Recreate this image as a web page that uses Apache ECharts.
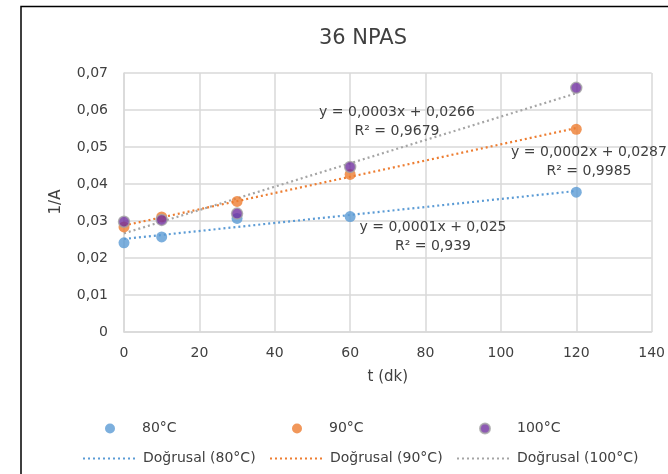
<!DOCTYPE html>
<html>
<head>
<meta charset="utf-8">
<title>36 NPAS</title>
<script src="https://cdn.jsdelivr.net/npm/echarts@6/dist/echarts.min.js"></script>
<style>
  html, body { margin: 0; padding: 0; background: #ffffff; }
  #chart { width: 668px; height: 474px; }
</style>
</head>
<body>
<div id="chart"></div>
<script>
// Sampling times (dk)
const times = [0, 10, 30, 60, 120];

// 1/A measured at each temperature
const series80 = [0.0241, 0.0257, 0.0307, 0.0312, 0.0378];
const series90 = [0.0284, 0.0311, 0.0353, 0.0426, 0.0548];
const series100 = [0.0298, 0.0303, 0.0320, 0.0446, 0.0660];

const seriesNames = ['80°C', '90°C', '100°C'];
const trendNames = ['Doğrusal (80°C)', 'Doğrusal (90°C)', 'Doğrusal (100°C)'];

// Regression equations as printed on the chart
const equationTexts = ['y = 0,0001x + 0,025', 'y = 0,0002x + 0,0287', 'y = 0,0003x + 0,0266'];
const r2Texts = ['R² = 0,939', 'R² = 0,9985', 'R² = 0,9679'];

const xTicks = { min: 0, max: 140, interval: 20 };
const yTicks = { min: 0, max: 0.07, interval: 0.01 };

const colors = ['#5b9bd5', '#ed7d31', '#7030a0'];
const trendColors = ['#5b9bd5', '#ed7d31', '#a5a5a5'];
const textColor = '#404040';
const FONT = 'DejaVu Sans';

// Least-squares line through the measured points
function linearFit(xs, ys) {
  const n = xs.length;
  const mx = xs.reduce((a, b) => a + b, 0) / n;
  const my = ys.reduce((a, b) => a + b, 0) / n;
  let sxy = 0, sxx = 0;
  for (let i = 0; i < n; i++) {
    sxy += (xs[i] - mx) * (ys[i] - my);
    sxx += (xs[i] - mx) * (xs[i] - mx);
  }
  const slope = sxy / sxx;
  return { slope, intercept: my - slope * mx };
}

const allSeries = [series80, series90, series100];

const chart = echarts.init(document.getElementById('chart'), null, { renderer: 'canvas' });

const seriesList = [];

// Dotted trend lines, from the first to the last sampling time
allSeries.forEach((ys, i) => {
  const fit = linearFit(times, ys);
  const x0 = times[0], x1 = times[times.length - 1];
  seriesList.push({
    name: trendNames[i],
    type: 'line',
    data: [[x0, fit.intercept + fit.slope * x0], [x1, fit.intercept + fit.slope * x1]],
    symbol: 'none',
    showSymbol: false,
    silent: true,
    z: 1,
    lineStyle: { color: trendColors[i], width: 2.2, type: [2, 3] },
    itemStyle: { color: trendColors[i] }
  });
});

// Measured points
allSeries.forEach((ys, i) => {
  seriesList.push({
    name: seriesNames[i],
    type: 'scatter',
    data: times.map((t, k) => [t, ys[k]]),
    symbol: 'circle',
    symbolSize: 11,
    z: 3 + i,
    itemStyle: {
      color: colors[i],
      borderColor: i === 2 ? '#a5a5a5' : colors[i],
      borderWidth: i === 2 ? 1.5 : 0
    }
  });
});

// One legend per entry so the two rows line up in columns
const markerCols = [105, 292, 479];
const lineCols = [82, 269, 456];
const legends = [];
seriesNames.forEach((name, i) => {
  legends.push({
    data: [name],
    left: markerCols[i],
    top: 421.5,
    padding: 0,
    itemWidth: 10,
    itemHeight: 10,
    icon: 'circle',
    selectedMode: false,
    textStyle: { fontFamily: FONT, fontSize: 14, color: textColor, padding: [0, 0, 0, 22] }
  });
});
trendNames.forEach((name, i) => {
  legends.push({
    data: [name],
    left: lineCols[i],
    top: 451.5,
    padding: 0,
    itemWidth: 55,
    itemHeight: 10,
    selectedMode: false,
    itemStyle: { opacity: 0 },
    textStyle: { fontFamily: FONT, fontSize: 14, color: textColor }
  });
});

// Equation labels (centre x, centre y of the two-line block)
const eqPos = [[433, 237], [589, 162], [397, 122]];
const graphics = [];
eqPos.forEach((p, i) => {
  graphics.push({
    type: 'text',
    x: p[0], y: p[1],
    style: {
      text: equationTexts[i] + '\n' + r2Texts[i],
      fill: textColor,
      font: '14px "' + FONT + '"',
      align: 'center',
      verticalAlign: 'middle',
      lineHeight: 19.5
    },
    z: 10
  });
});
// Vertical axis title, reading bottom to top
graphics.push({
  type: 'text',
  x: 56, y: 202,
  rotation: Math.PI / 2,
  style: {
    text: '1/A',
    fill: textColor,
    font: '15px "' + FONT + '"',
    align: 'center',
    verticalAlign: 'middle'
  }
});
// Chart frame
graphics.push({
  type: 'polyline',
  shape: { points: [[21, 480], [21, 6.5], [680, 6.5]] },
  style: { stroke: '#000000', lineWidth: 1.5, fill: null },
  silent: true
});

const fmt = v => (v === 0 ? '0' : v.toFixed(2).replace('.', ','));

chart.setOption({
  animation: false,
  backgroundColor: '#ffffff',
  color: colors,
  title: {
    text: '36 NPAS',
    left: 358,
    top: 23,
    textAlign: 'center',
    textStyle: { fontFamily: FONT, fontSize: 21, fontWeight: 'normal', color: textColor }
  },
  grid: { left: 124, top: 73, right: 9, bottom: 142, containLabel: false },
  xAxis: {
    type: 'value',
    min: xTicks.min, max: xTicks.max, interval: xTicks.interval,
    name: 't (dk)',
    nameLocation: 'middle',
    nameGap: 38,
    nameTextStyle: { fontFamily: FONT, fontSize: 15, color: textColor },
    axisLine: { show: true, lineStyle: { color: '#d9d9d9', width: 1.5 } },
    axisTick: { show: false },
    axisLabel: { fontFamily: FONT, fontSize: 14, color: textColor, margin: 14 },
    splitLine: { show: true, lineStyle: { color: '#d9d9d9', width: 1.5 } }
  },
  yAxis: {
    type: 'value',
    min: yTicks.min, max: yTicks.max, interval: yTicks.interval,
    axisLine: { show: true, lineStyle: { color: '#d9d9d9', width: 1.5 } },
    axisTick: { show: false },
    axisLabel: { fontFamily: FONT, fontSize: 14, color: textColor, margin: 16, formatter: fmt },
    splitLine: { show: true, lineStyle: { color: '#d9d9d9', width: 1.5 } }
  },
  legend: legends,
  graphic: graphics,
  series: seriesList
});
</script>
</body>
</html>
